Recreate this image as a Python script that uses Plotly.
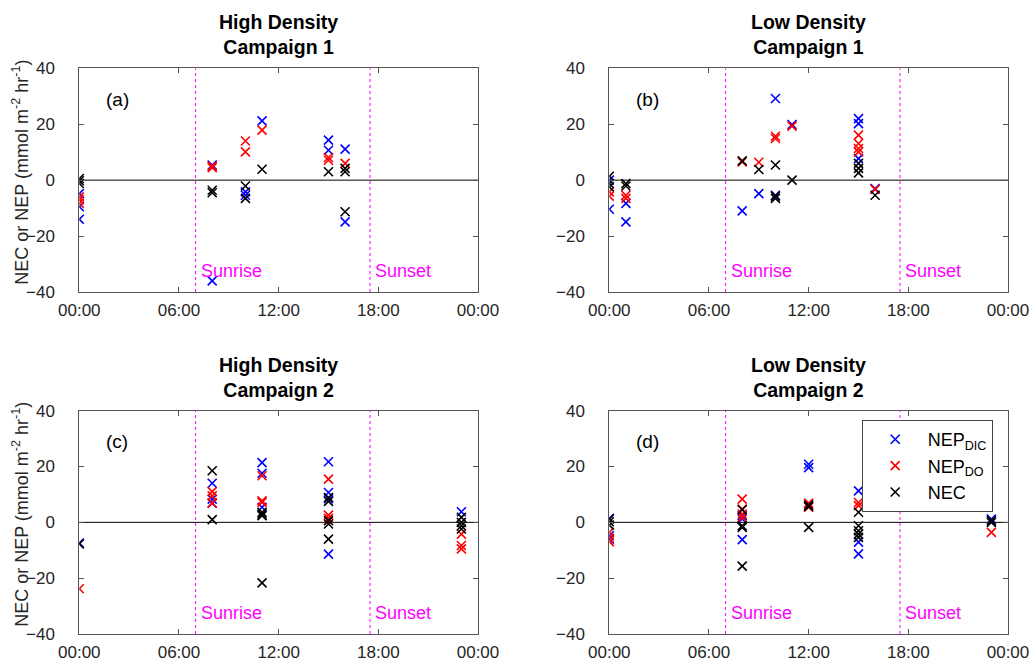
import plotly.graph_objects as go

# ---------------- data (hours of day, mmol m-2 hr-1) ----------------
a_dic_t = [0, 0, 0, 8, 8, 10, 10, 11, 15, 15, 16, 16]
a_dic_v = [-4.8, -9.5, -14.0, 5.4, -36.0, -4.2, -5.4, 21.2, 14.3, 10.7, 11.1, -14.9]
a_do_t = [0, 0, 0, 8, 8, 10, 10, 11, 15, 15, 16]
a_do_v = [-6.0, -7.0, -8.3, 5.0, 4.5, 14.0, 10.1, 17.9, 8.1, 7.1, 6.0]
a_nec_t = [0, 0, 0, 8, 8, 10, 10, 11, 15, 16, 16, 16]
a_nec_v = [0.6, -0.2, -1.2, -3.6, -4.5, -2.1, -6.5, 3.9, 3.0, 4.2, 3.0, -11.3]

b_dic_t = [0, 0, 1, 1, 8, 9, 10, 10, 11, 15, 15, 15, 16]
b_dic_v = [0.0, -10.4, -8.3, -14.9, -11.0, -4.8, 29.2, -5.4, 19.9, 22.0, 20.2, 7.7, -3.0]
b_do_t = [0, 0, 1, 1, 8, 9, 10, 10, 11, 15, 15, 15, 15, 16]
b_do_v = [-4.2, -5.7, -5.4, -6.5, 6.5, 6.4, 15.7, 14.9, 19.3, 16.1, 13.1, 11.3, 10.1, -3.3]
b_nec_t = [0, 0, 0, 1, 1, 8, 9, 10, 10, 10, 11, 15, 15, 15, 16]
b_nec_v = [1.4, -1.2, -2.4, -1.2, -2.1, 6.9, 3.8, 5.4, -5.7, -6.5, 0.0, 6.0, 4.2, 2.6, -5.4]

c_dic_t = [0, 8, 8, 8, 11, 11, 11, 15, 15, 15, 15, 23]
c_dic_v = [-7.4, 14.0, 8.3, 6.9, 21.4, 17.6, 5.4, 21.7, 10.7, 8.5, -11.4, 3.8]
c_do_t = [0, 8, 8, 8, 11, 11, 11, 15, 15, 15, 23, 23, 23]
c_do_v = [-23.8, 11.0, 9.5, 6.9, 16.7, 7.7, 7.1, 15.5, 2.6, 1.4, -4.2, -8.3, -9.5]
c_nec_t = [0, 8, 8, 11, 11, 11, 11, 15, 15, 15, 15, 15, 23, 23, 23, 23]
c_nec_v = [-7.7, 18.5, 1.0, 3.6, 3.0, 2.4, -21.7, 8.9, 7.5, 0.6, -0.6, -6.0, 1.8, 0.0, -1.2, -2.4]

d_dic_t = [0, 0, 0, 8, 8, 8, 12, 12, 15, 15, 15, 23]
d_dic_v = [1.4, -4.8, -6.0, 2.4, 1.2, -6.2, 20.8, 19.6, 11.3, -7.1, -11.3, 1.2]
d_do_t = [0, 0, 0, 8, 8, 8, 8, 12, 12, 15, 15, 23]
d_do_v = [-3.6, -5.7, -6.9, 8.3, 4.8, 3.0, 1.8, 6.9, 5.4, 7.1, 6.0, -3.6]
d_nec_t = [0, 0, 0, 8, 8, 8, 8, 12, 12, 12, 15, 15, 15, 15, 15, 23, 23]
d_nec_v = [1.2, 0.2, -1.0, 4.5, -1.2, -1.8, -15.7, 6.2, 5.7, -1.8, 3.6, -1.2, -3.0, -4.2, -5.4, 0.6, 0.0]

sunrise_h = 7.0
sunset_h = 17.5
x_tick_vals = [0, 6, 12, 18, 24]
x_tick_text = ["00:00", "06:00", "12:00", "18:00", "00:00"]
y_tick_vals = [-40, -20, 0, 20, 40]

panel_titles = ["High Density<br>Campaign 1", "Low Density<br>Campaign 1",
                "High Density<br>Campaign 2", "Low Density<br>Campaign 2"]
panel_labels = ["(a)", "(b)", "(c)", "(d)"]
series_names = ["NEP<sub>DIC</sub>", "NEP<sub>DO</sub>", "NEC"]
series_colors = ["#0000FF", "#FF0000", "#000000"]
y_title = "NEC or NEP (mmol m<sup>-2</sup> hr<sup>-1</sup>)"

panels = [
    [(a_dic_t, a_dic_v), (a_do_t, a_do_v), (a_nec_t, a_nec_v)],
    [(b_dic_t, b_dic_v), (b_do_t, b_do_v), (b_nec_t, b_nec_v)],
    [(c_dic_t, c_dic_v), (c_do_t, c_do_v), (c_nec_t, c_nec_v)],
    [(d_dic_t, d_dic_v), (d_do_t, d_do_v), (d_nec_t, d_nec_v)],
]

# ---------------- layout geometry ----------------
W, H = 1032, 664
x_doms = [(79.3 / W, 478.0 / W), (609.3 / W, 1008.0 / W)]
y_doms = [(1 - 292.0 / H, 1 - 68.3 / H), (1 - 634.0 / H, 1 - 410.7 / H)]

FONT = "Liberation Sans, Arial, Helvetica, sans-serif"
AXCOL = "#555555"

fig = go.Figure()
layout = dict(
    width=W, height=H, margin=dict(l=0, r=0, t=0, b=0, autoexpand=False),
    plot_bgcolor="white", paper_bgcolor="white",
    font=dict(family=FONT, size=17, color="#262626"),
    showlegend=True,
    legend=dict(x=861.7 / W, y=1 - 420.0 / H, xanchor="left", yanchor="top",
                bgcolor="white", bordercolor="#444444", borderwidth=1,
                font=dict(size=18, color="#000000"), itemwidth=55,
                tracegroupgap=0),
)
annotations = []

for i in range(4):
    row, col = divmod(i, 2)
    n = i + 1
    xa = "x" if n == 1 else f"x{n}"
    ya = "y" if n == 1 else f"y{n}"
    xkey = "xaxis" if n == 1 else f"xaxis{n}"
    ykey = "yaxis" if n == 1 else f"yaxis{n}"

    layout[xkey] = dict(
        domain=x_doms[col], anchor=ya, range=[0, 24], automargin=False,
        tickvals=x_tick_vals, ticktext=x_tick_text,
        ticks="inside", ticklen=5, tickcolor=AXCOL, tickwidth=1,
        showline=True, linecolor=AXCOL, linewidth=1, mirror="ticks",
        showgrid=False, zeroline=False, ticklabelstandoff=3,
        tickfont=dict(size=17, color="#262626"),
    )
    layout[ykey] = dict(
        domain=y_doms[row], anchor=xa, range=[-40, 40], automargin=False,
        tickvals=y_tick_vals,
        ticks="inside", ticklen=5, tickcolor=AXCOL, tickwidth=1,
        showline=True, linecolor=AXCOL, linewidth=1, mirror="ticks",
        showgrid=False, zeroline=False, ticklabelstandoff=20,
        tickfont=dict(size=17, color="#262626"),
    )
    if col == 0:
        yc = (y_doms[row][0] + y_doms[row][1]) / 2 + 8.0 / H
        annotations.append(dict(x=20.5 / W, y=yc, xref="paper", yref="paper",
                                text=y_title, textangle=-90, showarrow=False,
                                xanchor="center", yanchor="middle",
                                font=dict(size=18, color="#262626")))

    # zero line
    fig.add_trace(go.Scatter(x=[0, 24], y=[0, 0], mode="lines",
                             line=dict(color="black", width=1),
                             xaxis=xa, yaxis=ya, showlegend=False,
                             hoverinfo="skip"))
    # sunrise / sunset lines
    for h in (sunrise_h, sunset_h):
        fig.add_trace(go.Scatter(x=[h, h], y=[-40, 40], mode="lines",
                                 line=dict(color="#FF00FF", width=1, dash="dot"),
                                 xaxis=xa, yaxis=ya, showlegend=False,
                                 hoverinfo="skip"))
    # data
    for k, (tt, vv) in enumerate(panels[i]):
        fig.add_trace(go.Scatter(
            x=tt, y=vv, mode="markers", name=series_names[k],
            marker=dict(symbol="x-thin", size=9, color=series_colors[k],
                        line=dict(width=1.6, color=series_colors[k])),
            xaxis=xa, yaxis=ya, showlegend=(i == 3), legendgroup=series_names[k],
        ))
    # text labels
    annotations.append(dict(x=sunrise_h + 0.2, y=-32.5, xref=xa, yref=ya,
                            text="Sunrise", showarrow=False, xanchor="left",
                            font=dict(size=18, color="#FF00FF")))
    annotations.append(dict(x=sunset_h + 0.2, y=-32.5, xref=xa, yref=ya,
                            text="Sunset", showarrow=False, xanchor="left",
                            font=dict(size=18, color="#FF00FF")))
    annotations.append(dict(x=1.5, y=29, xref=xa, yref=ya, text=panel_labels[i],
                            showarrow=False, xanchor="left",
                            font=dict(size=19, color="#000000")))
    xc = (x_doms[col][0] + x_doms[col][1]) / 2
    annotations.append(dict(x=xc, y=y_doms[row][1] + 8.0 / H, xref="paper",
                            yref="paper",
                            text="<b>" + panel_titles[i].replace("<br>", "</b><br><b>") + "</b>",
                            showarrow=False, xanchor="center", yanchor="bottom",
                            font=dict(size=19.5, color="#000000")))

layout["annotations"] = annotations
fig.update_layout(**layout)
fig.write_html("out.html")
